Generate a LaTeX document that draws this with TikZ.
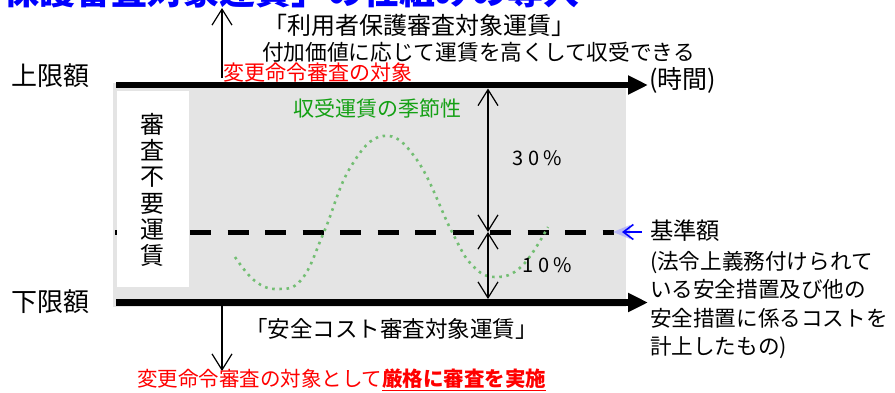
\documentclass[tikz,border=0pt]{standalone}
\usepackage{fontspec}
\setmainfont{Noto Sans CJK JP}
\usetikzlibrary{arrows.meta}
\definecolor{dotgreen}{RGB}{115,190,115}
\definecolor{txtgreen}{RGB}{20,160,20}
\definecolor{boxgray}{RGB}{228,228,228}
\newcommand{\fs}[1]{\fontsize{#1}{#1}\selectfont}
\tikzset{
  txt/.style={inner sep=0pt, outer sep=0pt},
  thickaxis/.style={line width=6.5pt, -{Triangle[length=20pt,width=18pt]}},
  meas/.style={line width=1.2pt, {Straight Barb[length=16pt,width=20pt]}-{Straight Barb[length=16pt,width=20pt]}},
  vmark/.style={line width=1.2pt, -{Straight Barb[length=16pt,width=20pt]}},
  basedash/.style={line width=5pt, dash pattern=on 21pt off 16.5pt},
  season/.style={dotgreen, line width=2.6pt, dash pattern=on 2.6pt off 4.6pt},
}
\begin{document}
\begin{tikzpicture}[x=1pt,y=-1pt]
\useasboundingbox (0,0) rectangle (895,392);
\clip (0,0) rectangle (895,392);
% title (clipped at top)
\node[txt, anchor=base west, text=blue, font=\fs{36}\bfseries] (title) at (4,4) {保護審査対象運賃」の仕組みの導入};
% gray band
\fill[boxgray] (113,83) rectangle (626,307);
% dashed base line
\coordinate (dl) at (115,232);
\coordinate (dr) at (614,232);
\draw[basedash] (dl) -- (dr);
% white box with vertical text
\fill[white] (117,91) rectangle (189,287);
\node[txt, align=center, font=\fontsize{24}{26.2}\selectfont] (nocheck) at (152,190) {審\\査\\不\\要\\運\\賃};
% axes
\coordinate (tl) at (116,85);
\coordinate (tr) at (648,85);
\coordinate (bl) at (116,302.5);
\coordinate (br) at (648,302.5);
\draw[thickaxis] (tl) -- (tr);
\draw[thickaxis] (bl) -- (br);
% seasonal curve
\draw[season] plot[smooth, tension=0.7] coordinates {(235,257) (255,281) (278,289) (302,279) (324,232) (350,168) (383,136) (417,160) (452,232) (472,265) (495,277) (522,266) (548,227)};
\node[txt, text=txtgreen, font=\fs{21}] (seasonal) at (377.5,108) {収受運賃の季節性};
% measurement arrows
\coordinate (mt) at (488,88.5);
\coordinate (mm) at (488,232);
\coordinate (mb) at (488,299);
\draw[meas] (mt) -- (mm);
\draw[meas] (mm) -- (mb);
\node[txt, font=\fs{20}] (p30) at (537,158) {3\hspace{5pt}0\hspace{4pt}\%};
\node[txt, font=\fs{20}] (p10) at (547.5,265) {1\hspace{5pt}0\hspace{4pt}\%};
% upward / downward arrows
\coordinate (ua0) at (222,78);
\coordinate (ua1) at (222,8);
\draw[vmark] (ua0) -- (ua1);
\coordinate (da0) at (222,306);
\coordinate (da1) at (222,371);
\draw[vmark] (da0) -- (da1);
% labels left
\node[txt, anchor=west, font=\fs{26}] (upper) at (12,76) {上限額};
\node[txt, anchor=west, font=\fs{26}] (lower) at (12,302) {下限額};
\node[txt, anchor=west, font=\fs{25}] (time) at (649,80) {(時間)};
% top texts
\node[txt, anchor=west, font=\fs{24}] (protect) at (263,25) {「利用者保護審査対象運賃」};
\node[txt, anchor=west, font=\fs{21.7}] (addval) at (262,52) {付加価値に応じて運賃を高くして収受できる};
\node[txt, anchor=west, text=red, font=\fs{21}] (chg1) at (223,73) {変更命令審査の対象};
% bottom texts
\node[txt, anchor=west, font=\fs{22.5}] (safety) at (245,329) {「安全コスト審査対象運賃」};
\node[txt, anchor=west, text=red, font=\fs{20.5}] (chg2) at (137,380) {変更命令審査の対象として\underline{\bfseries 厳格に審査を実施}};
% base amount
\fill[blue!40, opacity=0.6] (613,232) -- (630,225) -- (630,239) -- cycle;
\coordinate (ba0) at (642,232);
\coordinate (ba1) at (622,232);
\draw[blue, line width=1.6pt, -{Straight Barb[length=10pt,width=15pt]}] (ba0) -- (ba1);
\node[txt, anchor=west, font=\fs{23.3}] (base) at (650,231) {基準額};
\node[txt, anchor=north west, align=left, font=\fontsize{21.6}{28.5}\selectfont] (basenote) at (650,251) {(法令上義務付けられて\\いる安全措置及び他の\\安全措置に係るコストを\\計上したもの)};
\end{tikzpicture}
\end{document}
